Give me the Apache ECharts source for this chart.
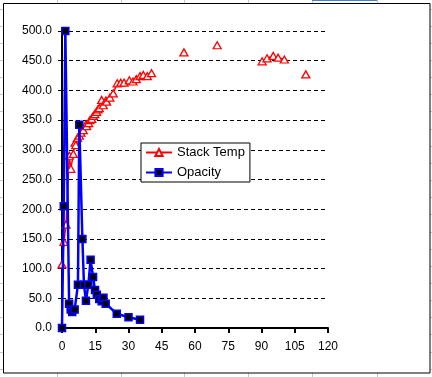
<!DOCTYPE html>
<html>
<head>
<meta charset="utf-8">
<script src="https://cdn.jsdelivr.net/npm/echarts@6/dist/echarts.min.js"></script>
<style>
html,body{margin:0;padding:0;background:#fff;}
#c{width:432px;height:377px;}
</style>
</head>
<body>
<div id="c"></div>
<script>
// ---- data ----
var stackTempX = [0, 0.9, 1.8, 3.3, 4.0, 5.1, 5.9, 6.2, 7.0, 7.8, 8.5, 9.6, 10.8, 11.1, 12.0, 12.6, 13.4, 14.1, 14.8, 15.6, 16.2, 16.8, 17.9, 18.6, 19.8, 20.1, 21.6, 23.1, 24.9, 26.5, 28.0, 30.4, 32.0, 33.5, 35.2, 36.7, 38.5, 40.4, 47, 55, 62, 70, 80, 90.3, 92.5, 95.3, 97.5, 100.3, 105, 110];
var stackTempY = [107, 145, 174, 290, 268, 293, 312, 308, 320, 324, 329, 333, 343, 340, 345, 350, 352, 357, 360, 364, 368, 370, 384, 375, 383, 381, 388, 395, 412, 413, 413, 417, 415, 419, 424, 426, 424, 429, null, 464, null, 476, null, 449, 454, 458, 455, 452, null, 427];
var opacityX = [0, 0.8, 1.5, 3.2, 3.9, 4.6, 5.7, 7.2, 7.8, 9.2, 9.9, 10.8, 11.9, 12.9, 14.0, 14.9, 15.7, 16.8, 17.9, 18.7, 19.7, 24.7, 30.0, 35.2];
var opacityY = [0, 205, 500, 41, 31, 27, 31, 73, 342, 150, 73, 46, 73, 115, 86, 64, 56, 49, 45, 51, 41, 24, 18, 14];
var xTicks = [0, 15, 30, 45, 60, 75, 90, 105, 120];
var yTicks = [0, 50, 100, 150, 200, 250, 300, 350, 400, 450, 500];

function zip(xs, ys) {
  return xs.map(function (x, i) { return [x, ys[i] == null ? '-' : ys[i]]; });
}

// decorative spreadsheet gridlines around the chart object
var deco = [];
var colX = [57, 121, 184, 248, 312, 377];
colX.forEach(function (x) {
  deco.push({type: 'line', shape: {x1: x + 0.5, y1: 0, x2: x + 0.5, y2: 4}, style: {stroke: '#c8c8c8', lineWidth: 1}, silent: true});
  deco.push({type: 'line', shape: {x1: x + 0.5, y1: 373, x2: x + 0.5, y2: 377}, style: {stroke: '#c8c8c8', lineWidth: 1}, silent: true});
});
for (var k = 0; k < 22; k++) {
  var yy = Math.round(8.6 + 17.15 * k) + 0.5;
  deco.push({type: 'line', shape: {x1: 0, y1: yy, x2: 3, y2: yy}, style: {stroke: '#c8c8c8', lineWidth: 1}, silent: true});
  deco.push({type: 'line', shape: {x1: 430, y1: yy, x2: 432, y2: yy}, style: {stroke: '#c8c8c8', lineWidth: 1}, silent: true});
}
deco.push({type: 'line', shape: {x1: 312, y1: 0.5, x2: 377, y2: 0.5}, style: {stroke: '#4a7fd0', lineWidth: 1}, silent: true});
deco.push({type: 'rect', shape: {x: 3.5, y: 3.5, width: 426.5, height: 369.5}, style: {stroke: '#000', fill: 'transparent', lineWidth: 1}, silent: true});

var chart = echarts.init(document.getElementById('c'), null, {renderer: 'canvas'});
chart.setOption({
  animation: false,
  backgroundColor: '#fff',
  textStyle: {fontFamily: 'Liberation Sans, Arial, sans-serif'},
  graphic: deco,
  grid: {left: 62, right: 104, top: 31, bottom: 49, containLabel: false},
  legend: {
    orient: 'vertical',
    left: 141,
    top: 143,
    padding: [3, 5, 3, 4],
    itemWidth: 26,
    itemHeight: 9,
    itemGap: 7,
    borderColor: '#000',
    borderWidth: 1,
    backgroundColor: '#fff',
    textStyle: {fontSize: 13, color: '#000', fontFamily: 'Liberation Sans, Arial, sans-serif'},
    data: ['Stack Temp', 'Opacity']
  },
  xAxis: {
    type: 'value',
    min: 0, max: 120, interval: 15,
    axisLine: {show: true, lineStyle: {color: '#000', width: 2}},
    axisTick: {show: true, length: 5, lineStyle: {color: '#000', width: 2}},
    axisLabel: {color: '#000', fontSize: 12, margin: 13,
      formatter: function (v) { return xTicks.indexOf(v) >= 0 ? String(v) : ''; }},
    splitLine: {show: false}
  },
  yAxis: {
    type: 'value',
    min: 0, max: 500, interval: 50,
    axisLine: {show: true, lineStyle: {color: '#000', width: 2}},
    axisTick: {show: true, length: 4, lineStyle: {color: '#000', width: 1}},
    axisLabel: {color: '#000', fontSize: 12, margin: 10,
      formatter: function (v) { return yTicks.indexOf(v) >= 0 ? v.toFixed(1) : ''; }},
    splitLine: {show: true, lineStyle: {color: '#000', width: 1, type: [4, 3]}}
  },
  series: [
    {
      name: 'Stack Temp',
      type: 'line',
      data: zip(stackTempX, stackTempY),
      connectNulls: false,
      symbol: 'triangle',
      symbolSize: [8, 7],
      showAllSymbol: true,
      itemStyle: {color: '#fff', borderColor: '#ff0000', borderWidth: 1.3},
      lineStyle: {color: '#ff0000', width: 1.5},
      z: 2
    },
    {
      name: 'Opacity',
      type: 'line',
      data: zip(opacityX, opacityY),
      symbol: 'rect',
      symbolSize: 7,
      showAllSymbol: true,
      itemStyle: {color: '#000', borderColor: '#0000ff', borderWidth: 1.5},
      lineStyle: {color: '#0000ff', width: 2.5},
      z: 3
    }
  ]
});
</script>
</body>
</html>
